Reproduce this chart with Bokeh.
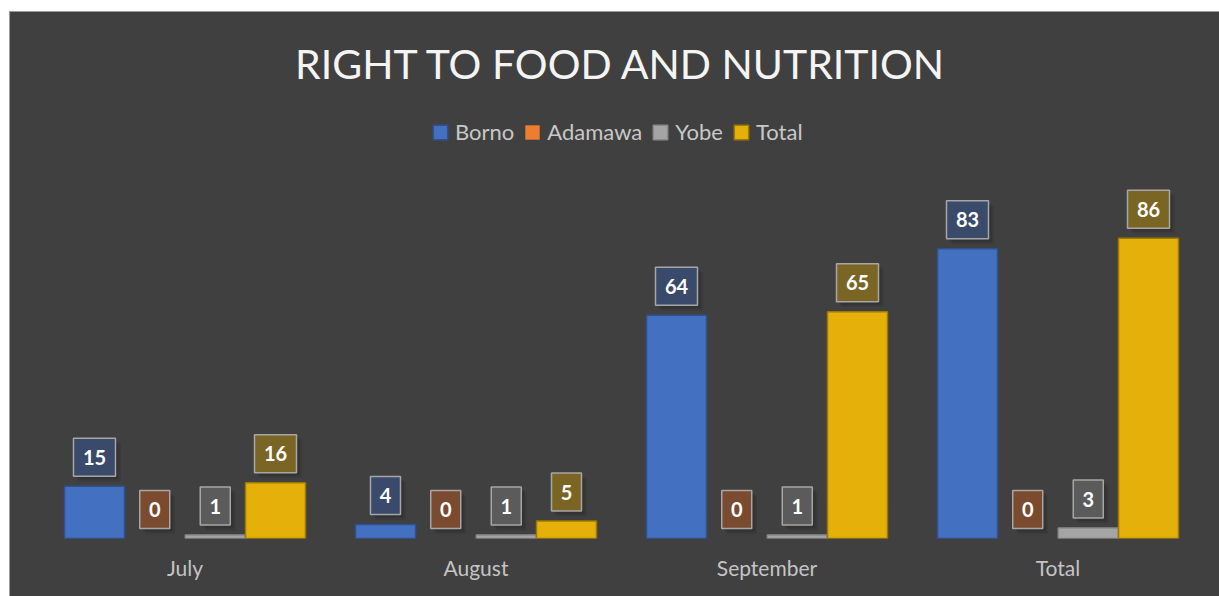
from bokeh.plotting import figure
from bokeh.models import FactorRange, Range1d, ColumnDataSource, Label
from bokeh.transform import dodge
from bokeh.core.properties import value
from bokeh.embed import file_html
from bokeh.resources import INLINE

# ---- data ----
months = ["July", "August", "September", "Total"]
series = ["Borno", "Adamawa", "Yobe", "Total"]
borno = [15, 4, 64, 83]
adamawa = [0, 0, 0, 0]
yobe = [1, 1, 1, 3]
total = [16, 5, 65, 86]
values = [borno, adamawa, yobe, total]

# ---- style ----
bar_fill = ["#4470c2", "#ed7d31", "#a5a5a5", "#e6b00a"]
bar_line = ["#2f528f", "#ae5a21", "#8a8a8a", "#9c7a00"]
lab_fill = ["#394a6b", "#7a4b2f", "#5b5b5b", "#7b6525"]
offsets = [-0.311, -0.104, 0.104, 0.311]
bar_w = 0.206
FONT = "Lato"
BG = "#404040"
PX_PER_UNIT = 3.49
FRAME_H = 526

p = figure(
    x_range=FactorRange(factors=months, range_padding=0),
    y_range=Range1d(0, FRAME_H / PX_PER_UNIT),
    width=1210, height=585,
    min_border_left=29, min_border_right=17, min_border_top=0, min_border_bottom=59,
    margin=(11, 0, 0, 9),
    y_axis_location=None,
    output_backend="svg", toolbar_location=None,
)
p.background_fill_color = BG
p.border_fill_color = BG
p.outline_line_color = None
p.xgrid.visible = False
p.ygrid.visible = False
p.styles = {"border-top": "1px solid #9a9a9a", "border-left": "1px solid #9a9a9a",
            "box-sizing": "border-box", "background-color": BG}

ax = p.xaxis[0]
ax.axis_line_color = None
ax.major_tick_line_color = None
ax.minor_tick_line_color = None
ax.major_label_standoff = 10
ax.major_label_text_font = FONT
ax.major_label_text_font_size = "21px"
ax.major_label_text_color = "#c4c4c4"

label_off = 29 / PX_PER_UNIT
shadow_dx = 4 / 291
shadow_dy = -4 / PX_PER_UNIT

for name, vals, fc, lc, lf, off in zip(series, values, bar_fill, bar_line, lab_fill, offsets):
    src = ColumnDataSource(dict(
        x=months,
        y=vals,
        label=[str(v) for v in vals],
        w=[18 + 12 * len(str(v)) for v in vals],
        la=[1.0 if v > 0 else 0.0 for v in vals],
    ))
    p.vbar(x=dodge("x", off, range=p.x_range), top="y", width=bar_w, source=src,
           fill_color=fc, line_color=lc, line_width=1.5, line_alpha="la",
           legend_label=name)
    # soft shadow of data labels
    for k, a in [(1.3, 0.12), (0.8, 0.16)]:
        p.rect(x=dodge("x", off + shadow_dx * k, range=p.x_range),
               y=dodge("y", label_off + shadow_dy * k, range=p.y_range),
               width="w", height=38, width_units="screen", height_units="screen",
               source=src, fill_color="#111111", fill_alpha=a, line_color=None)
    p.rect(x=dodge("x", off, range=p.x_range), y=dodge("y", label_off, range=p.y_range),
           width="w", height=38, width_units="screen", height_units="screen",
           source=src, fill_color=lf, line_color="#a6a6a6", line_width=1.5)
    p.text(x=dodge("x", off, range=p.x_range), y=dodge("y", label_off, range=p.y_range),
           text="label", source=src, text_align="center", text_baseline="middle",
           text_font=value(FONT), text_font_size="20px", text_font_style="bold",
           text_color="#ffffff")

lg = p.legend[0]
lg.orientation = "horizontal"
lg.location = (392, 393)
lg.margin = 0
lg.padding = 0
lg.spacing = 9
lg.label_standoff = 6
lg.glyph_width = 18
lg.glyph_height = 18
lg.label_height = 20
lg.label_text_font = FONT
lg.label_text_font_size = "22px"
lg.label_text_color = "#c8c8c8"
lg.border_line_color = None
lg.background_fill_alpha = 0

p.add_layout(Label(x=2, y=(FRAME_H - 51) / PX_PER_UNIT, text="RIGHT TO FOOD AND NUTRITION",
                   text_align="center", text_baseline="middle", text_font=FONT,
                   text_font_size="41px", text_color="#f4f4f4"))

open("out.html", "w").write(file_html(p, INLINE))
